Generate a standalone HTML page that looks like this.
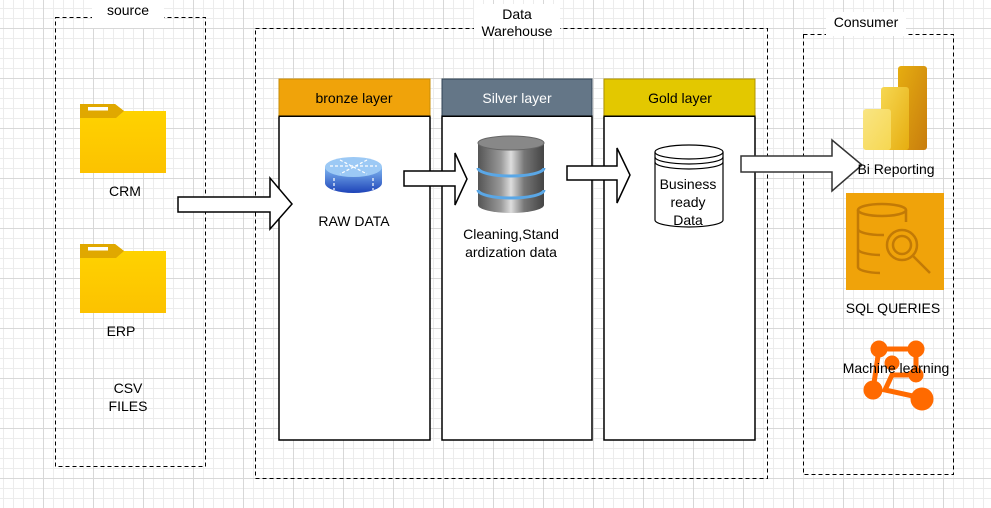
<!DOCTYPE html>
<html><head><meta charset="utf-8"><style>
body{margin:0;width:991px;height:508px;overflow:hidden;background:#fff;}
svg{display:block;font-family:"Liberation Sans",Arial,sans-serif;}
</style></head><body>
<svg width="991" height="508" viewBox="0 0 991 508" xmlns="http://www.w3.org/2000/svg">
<defs>
<pattern id="minor" x="3" y="8" width="10" height="10" patternUnits="userSpaceOnUse"><path d="M0.5 0V10M0 0.5H10" fill="none" stroke="#ececec" stroke-width="1"/></pattern>
<pattern id="major" x="43" y="28" width="50" height="50" patternUnits="userSpaceOnUse"><path d="M0.5 0V50M0 0.5H50" fill="none" stroke="#d8d8d8" stroke-width="1"/></pattern>
<linearGradient id="fold" x1="0" y1="0" x2="0" y2="1"><stop offset="0" stop-color="#ffd400"/><stop offset="1" stop-color="#fcc200"/></linearGradient>
<linearGradient id="router" x1="0" y1="0" x2="0" y2="1"><stop offset="0" stop-color="#7fb6f0"/><stop offset="1" stop-color="#1e44b8"/></linearGradient>
<linearGradient id="db" x1="0" y1="0" x2="1" y2="0"><stop offset="0" stop-color="#555"/><stop offset="0.35" stop-color="#9a9a9a"/><stop offset="0.5" stop-color="#ddd"/><stop offset="0.7" stop-color="#777"/><stop offset="1" stop-color="#444"/></linearGradient>
<linearGradient id="pb1" x1="0" y1="0" x2="1" y2="1"><stop offset="0" stop-color="#e6ad10"/><stop offset="1" stop-color="#c87d0e"/></linearGradient>
<linearGradient id="pb2" x1="0" y1="0" x2="1" y2="1"><stop offset="0" stop-color="#f6d751"/><stop offset="1" stop-color="#e6ad10"/></linearGradient>
<linearGradient id="pb3" x1="0" y1="0" x2="1" y2="1"><stop offset="0" stop-color="#f9e583"/><stop offset="1" stop-color="#f6d751"/></linearGradient>
</defs>
<rect width="991" height="508" fill="url(#minor)"/>
<rect width="991" height="508" fill="url(#major)"/>

<!-- source -->
<rect x="55.5" y="17.5" width="150" height="449" fill="none" stroke="#000" stroke-dasharray="4 3"/>
<rect x="92" y="0" width="72" height="28" fill="#fff"/>
<text x="128" y="15" font-size="14" text-anchor="middle">source</text>
<g>
<path d="M80 104H115L124 111H166V173H80Z" fill="url(#fold)"/>
<path d="M80 104H115L124 111L116 118H80Z" fill="#e0a800"/>
<rect x="88" y="107" width="20" height="3.5" fill="#fff"/>
</g>
<g>
<path d="M80 244H115L124 251H166V313H80Z" fill="url(#fold)"/>
<path d="M80 244H115L124 251L116 258H80Z" fill="#e0a800"/>
<rect x="88" y="247" width="20" height="3.5" fill="#fff"/>
</g>
<g font-size="14" text-anchor="middle">
<text x="125" y="196">CRM</text>
<text x="121" y="336">ERP</text>
<text x="128" y="393">CSV</text>
<text x="128" y="411">FILES</text>
</g>

<!-- warehouse -->
<rect x="255.5" y="28.5" width="512" height="450" fill="none" stroke="#000" stroke-dasharray="4 3"/>
<rect x="474" y="4" width="86" height="34" fill="#fff"/>
<text x="517" y="19" font-size="14" text-anchor="middle">Data</text>
<text x="517" y="36" font-size="14" text-anchor="middle">Warehouse</text>

<rect x="279" y="116" width="151" height="324" fill="#fff" stroke="#000" stroke-width="1.5"/>
<rect x="279" y="79" width="151" height="37" fill="#f0a30a" stroke="#c78c07"/>
<rect x="279" y="115.5" width="151" height="1.5" fill="#000"/>
<text x="354" y="103" font-size="14" text-anchor="middle">bronze layer</text>

<rect x="442" y="116" width="150" height="324" fill="#fff" stroke="#000" stroke-width="1.5"/>
<rect x="442" y="79" width="150" height="37" fill="#647687" stroke="#314354"/>
<rect x="442" y="115.5" width="150" height="1.5" fill="#000"/>
<text x="517" y="103" font-size="14" text-anchor="middle" fill="#fff">Silver layer</text>

<rect x="604" y="116" width="151" height="324" fill="#fff" stroke="#000" stroke-width="1.5"/>
<rect x="604" y="79" width="151" height="37" fill="#e3c800" stroke="#b09500"/>
<rect x="604" y="115.5" width="151" height="1.5" fill="#000"/>
<text x="680" y="103" font-size="14" text-anchor="middle">Gold layer</text>

<!-- consumer -->
<rect x="803.5" y="34.5" width="150" height="440" fill="none" stroke="#000" stroke-dasharray="4 3"/>
<rect x="826" y="12" width="80" height="24" fill="#fff"/>
<text x="866" y="27" font-size="14" text-anchor="middle">Consumer</text>

<!-- arrows -->
<g fill="#fff" stroke="#000" stroke-width="1.5" stroke-linejoin="miter">
<path d="M178 197H270V178L292 204L270 229V212H178Z"/>
<path d="M404 171H455V153L467 179L455 205V186H404Z"/>
<path d="M567 166H617V148L630 175L617 203V180H567Z"/>
<path d="M741 156H832V140L862 165L832 191V172H741Z" stroke="#333"/>
</g>

<!-- router -->
<path d="M325 167V183A28.5 10 0 0 0 382 183V167Z" fill="url(#router)"/>
<ellipse cx="353.5" cy="167" rx="28.5" ry="10" fill="#9cc9f5"/>
<g stroke="#fff" stroke-dasharray="3 2" stroke-width="1.2" fill="none">
<path d="M330 166H377M340 160L367 174M367 160L340 174M334 178V190M373 178V190"/>
</g>
<text x="354" y="226" font-size="14" text-anchor="middle">RAW DATA</text>

<!-- db silver -->
<path d="M478 143V205A33 8 0 0 0 544 205V143Z" fill="url(#db)"/>
<ellipse cx="511" cy="143" rx="33" ry="7" fill="#888" stroke="#666"/>
<path d="M478 168A33 8 0 0 0 544 168" stroke="#5aa7e6" stroke-width="3" fill="none"/>
<path d="M478 190A33 8 0 0 0 544 190" stroke="#5aa7e6" stroke-width="3" fill="none"/>
<text x="511" y="239" font-size="14" text-anchor="middle">Cleaning,Stand</text>
<text x="511" y="257" font-size="14" text-anchor="middle">ardization data</text>

<!-- gold cylinder -->
<path d="M655 152V220A34 7 0 0 0 723 220V152" fill="#fff" stroke="#000" stroke-width="1.2"/>
<ellipse cx="689" cy="152" rx="34" ry="7" fill="#fff" stroke="#000" stroke-width="1.2"/>
<path d="M655 157A34 7 0 0 0 723 157M655 162A34 7 0 0 0 723 162" fill="none" stroke="#000" stroke-width="1.2"/>
<g font-size="14" text-anchor="middle"><text x="688" y="189">Business</text><text x="688" y="207">ready</text><text x="688" y="225">Data</text></g>

<!-- power bi -->
<rect x="898" y="66" width="29" height="84" rx="3" fill="url(#pb1)"/>
<rect x="881" y="87" width="28" height="63" rx="3" fill="url(#pb2)"/>
<rect x="863" y="109" width="28" height="41" rx="3" fill="url(#pb3)"/>
<text x="896" y="174" font-size="14" text-anchor="middle">Bi Reporting</text>

<!-- sql -->
<rect x="846" y="193" width="98" height="97" fill="#f0a30a"/>
<g fill="none" stroke="#c27a06" stroke-width="2.5">
<ellipse cx="882" cy="210" rx="24" ry="6"/>
<path d="M858 210V267A24 6 0 0 0 880 273M858 229A24 6 0 0 0 884 235M858 249A24 6 0 0 0 880 255M906 210V222"/>
<circle cx="902" cy="245" r="15"/><circle cx="902" cy="245" r="9"/>
<path d="M913 256L930 273"/>
</g>
<text x="893" y="313" font-size="14" text-anchor="middle">SQL QUERIES</text>

<!-- ml -->
<g stroke="#ff6a00" stroke-width="5" fill="#ff6a00">
<path d="M879 349H916V375H892L885 390L922 398M879 349L873 390" fill="none"/>
<circle cx="879" cy="349" r="6"/><circle cx="916" cy="349" r="6"/><circle cx="892" cy="363" r="5"/><circle cx="916" cy="375" r="5"/><circle cx="873" cy="390" r="7"/><circle cx="922" cy="399" r="9"/>
</g>
<text x="896" y="373" font-size="14" text-anchor="middle">Machine learning</text>
</svg>
</body></html>
